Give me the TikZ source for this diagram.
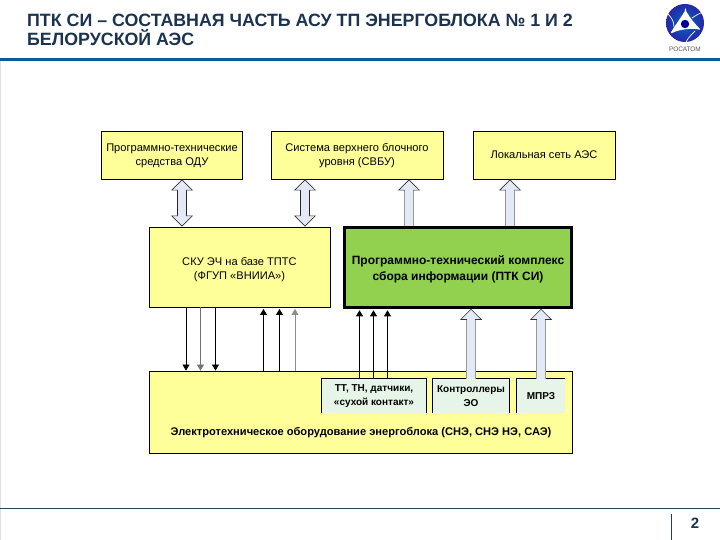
\documentclass[tikz,border=0pt]{standalone}
\usepackage{fontspec}
\setmainfont{Liberation Sans}
\usetikzlibrary{arrows.meta}
\definecolor{boxyellow}{HTML}{FFFF99}
\definecolor{boxgreen}{HTML}{92D050}
\definecolor{boxmint}{HTML}{E6F5E8}
\definecolor{arrowfill}{HTML}{E4EAF5}
\definecolor{titleblue}{HTML}{1B3350}
\definecolor{barblue}{HTML}{0B5C9B}
\definecolor{footline}{HTML}{2A4050}
\tikzset{
  x=1pt,y=-1pt,
  box/.style={draw=black,line width=.9pt,fill=boxyellow,align=center,inner sep=0pt,font=\fontsize{11.1}{14}\selectfont},
  greenbox/.style={box,fill=boxgreen,line width=2.6pt,font=\fontsize{12}{16}\bfseries\selectfont},
  subbox/.style={fill=boxmint,align=center,inner sep=0pt,font=\fontsize{10}{14}\bfseries\selectfont},
  subedge/.style={draw=black,line width=.8pt},
  lastline/.style={text height=2*#1,text depth=0pt},
  thin arrow/.style={line width=.8pt,-{Triangle[length=6pt,width=7pt]},shorten >=1.5pt},
  block tip/.tip={Triangle[length=11pt,width=22pt,fill=arrowfill,color=black!80,line width=.6pt]},
  block up/.style={draw=black!40,line width=.6pt,double=arrowfill,double distance=8.2pt,
    -{block tip},
    postaction={draw=arrowfill,double=none,line width=8.2pt,-,shorten >=9pt}},
  block both/.style={draw=black!85,line width=.6pt,double=arrowfill,double distance=8.2pt,
    {block tip}-{block tip},
    postaction={draw=arrowfill,double=none,line width=8.2pt,-,shorten >=9pt,shorten <=9pt}},
}
\begin{document}
\begin{tikzpicture}
\useasboundingbox (0,0) rectangle (720,540);
\fill[white] (0,0) rectangle (720,540);
% header and footer
\node[anchor=west,inner sep=0pt,align=left,text=titleblue,font=\fontsize{17.8}{19}\bfseries\selectfont] (title) at (27,30)
  {ПТК СИ – СОСТАВНАЯ ЧАСТЬ АСУ ТП ЭНЕРГОБЛОКА № 1 И 2\\БЕЛОРУСКОЙ АЭС};
\fill[barblue] (0,58) rectangle (720,61.5);
\draw[black!12,line width=.8pt] (.5,61.5) -- (.5,540);
\draw[footline,line width=.9pt] (0,508.3) -- (720,508.3);
\draw[footline,line width=.8pt] (671,514) -- (671,540);
\node[text=titleblue,inner sep=0pt,font=\fontsize{15}{15}\bfseries\selectfont] (pagenum) at (695,523) {2};
% logo
\shade[inner color=blue!45!cyan!75!black,outer color=blue!60!black!85] (685,23) circle (19);
\fill[white,rounded corners=2pt] (685.5,10) .. controls (690,18) and (695,24) .. (701,30)
  .. controls (692,28) and (680,29) .. (670,34) .. controls (674,27) and (680,19) .. (685.5,10) -- cycle;
\fill[blue!60!black] (685,24) circle (4.2);
\draw[white,line width=.7pt] (668,14) .. controls (672,18) and (674,22) .. (674,27);
\draw[white,line width=.7pt] (703,12) .. controls (698,14) and (695,16) .. (692,18);
\draw[white,line width=.7pt] (686,42) .. controls (688,38) and (692,34) .. (695,31);
\node[text=black!65,inner sep=0pt,font=\fontsize{6.5}{6.5}\selectfont] (logotext) at (685,49) {РОСАТОМ};
% boxes
\node[box,lastline=11pt,minimum width=141pt,minimum height=48pt] (odu) at (172,155) {Программно-технические\\средства ОДУ};
\node[box,lastline=11pt,minimum width=172pt,minimum height=48pt] (svbu) at (357,155) {Система верхнего блочного\\уровня (СВБУ)};
\node[box,lastline=4pt,minimum width=142pt,minimum height=48pt] (lan) at (544,155) {Локальная сеть АЭС};
\node[box,lastline=12pt,minimum width=181pt,minimum height=80pt] (sku) at (239.5,267) {СКУ ЭЧ на базе ТПТС\\(ФГУП «ВНИИА»)};
\node[greenbox,lastline=12.5pt,minimum width=227pt,minimum height=80pt] (ptk) at (458,267.5) {Программно-технический комплекс\\сбора информации (ПТК СИ)};
\node[box,minimum width=423pt,minimum height=82pt] (equip) at (360.5,412) {};
\node[inner sep=0pt,font=\fontsize{11.1}{12}\bfseries\selectfont] (equiptext) at (361,432.5) {Электротехническое оборудование энергоблока (СНЭ, СНЭ НЭ, САЭ)};
\node[subbox,minimum width=104pt,minimum height=34pt] (tt) at (374,396) {ТТ, ТН, датчики,\\«сухой контакт»};
\node[subbox,minimum width=76pt,minimum height=34pt] (ctrl) at (471,396) {Контроллеры\\ЭО};
\node[subbox,minimum width=48pt,minimum height=34pt] (mprz) at (541,396) {МПРЗ};
\draw[subedge] (tt.south west) |- (tt.north east) -- (tt.south east);
\draw[subedge] (ctrl.south west) |- (ctrl.north east) -- (ctrl.south east);
\draw[subedge] (mprz.south west) |- (mprz.north east);
% block arrows
\draw[block both] (sku.north -| 182,0) -- (odu.south -| 182,0);
\draw[block both] (sku.north -| 305,0) -- (svbu.south -| 305,0);
\draw[block up] (ptk.north -| 409,0) -- (svbu.south -| 409,0);
\draw[block up] (ptk.north -| 510,0) -- (lan.south -| 510,0);
\draw[block up] (ctrl.north -| 471,0) -- (ptk.south -| 471,0);
\draw[block up] (mprz.north -| 541,0) -- (ptk.south -| 541,0);
% thin arrows
\draw[thin arrow,shorten >=0pt] (sku.south -| 186,0) -- (equip.north -| 186,0);
\draw[thin arrow,shorten >=0pt,black!55] (sku.south -| 200.5,0) -- (equip.north -| 200.5,0);
\draw[thin arrow,shorten >=0pt] (sku.south -| 215.5,0) -- (equip.north -| 215.5,0);
\draw[thin arrow] (equip.north -| 263.5,0) -- (sku.south -| 263.5,0);
\draw[thin arrow] (equip.north -| 279.5,0) -- (sku.south -| 279.5,0);
\draw[thin arrow,black!45] (equip.north -| 295,0) -- (sku.south -| 295,0);
\draw[thin arrow] (tt.north -| 359.5,0) -- (ptk.south -| 359.5,0);
\draw[thin arrow] (tt.north -| 373.5,0) -- (ptk.south -| 373.5,0);
\draw[thin arrow] (tt.north -| 387.5,0) -- (ptk.south -| 387.5,0);
\end{tikzpicture}
\end{document}
